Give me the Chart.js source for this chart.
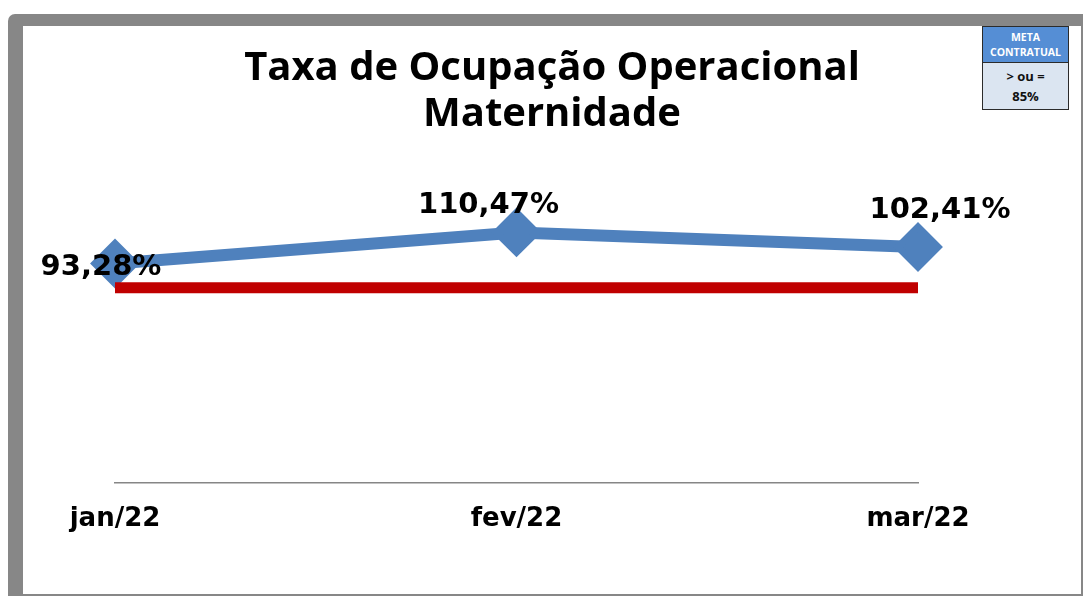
<!DOCTYPE html>
<html>
<head>
<meta charset="utf-8">
<script src="https://cdn.jsdelivr.net/npm/chart.js"></script>
<style>
  html, body { margin: 0; padding: 0; background: #fff; width: 1083px; height: 596px; overflow: hidden; }
  #frame { position: absolute; left: 8px; top: 14px; width: 1075px; height: 582px; background: #878787; border-radius: 7px 0 0 0; }
  #inner { position: absolute; left: 23px; top: 26px; width: 1058px; height: 568px; background: #fff; }
  #meta { position: absolute; left: 982px; top: 26px; width: 85px; height: 82px; border: 1px solid #2b2b2b;
          font-family: 'Open Sans', sans-serif; font-weight: bold; text-align: center; }
  #meta .hd { background: #558ed5; color: #fff; height: 36px; font-size: 10.5px; line-height: 15px; padding-top: 3px; box-sizing: border-box; border-bottom: 1px solid #2b2b2b; }
  #meta .bd { background: #dbe5f1; color: #111; height: 46px; font-size: 13px; line-height: 20px; padding-top: 3px; box-sizing: border-box; }
</style>
</head>
<body>
<div id="frame"></div>
<div id="inner"><canvas id="c"></canvas></div>
<div id="meta">
  <div class="hd">META<br>CONTRATUAL</div>
  <div class="bd">&gt; ou =<br>85%</div>
</div>
<script>
// months on the x axis
const months = ['jan/22', 'fev/22', 'mar/22'];
// occupancy rate, %
const taxaOcupacao = [93.28, 110.47, 102.41];
// contract target, %
const metaContratual = [85, 85, 85];

const titleLines = ['Taxa de Ocupação Operacional', 'Maternidade'];

// where each value label sits relative to its point (px)
const labelOffsets = [[-14, 4], [-28, -27], [22, -37]];

const fmt = v => v.toFixed(2).replace('.', ',') + '%';

const valueLabels = {
    id: 'valueLabels',
    afterDatasetsDraw(chart) {
        const ctx = chart.ctx;
        const meta = chart.getDatasetMeta(0);
        ctx.save();
        ctx.font = 'bold 29px "DejaVu Sans"';
        ctx.fillStyle = '#000';
        ctx.textAlign = 'center';
        ctx.textBaseline = 'middle';
        meta.data.forEach((pt, i) => {
            const o = labelOffsets[i];
            ctx.fillText(fmt(taxaOcupacao[i]), pt.x + o[0], pt.y + o[1]);
        });
        ctx.restore();
    }
};

new Chart(document.getElementById('c'), {
    type: 'line',
    data: {
        labels: months,
        datasets: [
            {
                label: 'Taxa',
                data: taxaOcupacao,
                borderColor: '#4f81bd',
                backgroundColor: '#4f81bd',
                borderWidth: 12,
                tension: 0,
                pointStyle: 'rectRot',
                pointRadius: 20,
                pointBorderWidth: 7,
                pointBackgroundColor: '#4f81bd',
                pointBorderColor: '#4f81bd',
                yAxisID: 'y',
                order: 1
            },
            {
                label: 'Meta',
                data: metaContratual,
                borderColor: '#c00000',
                borderWidth: 11,
                borderCapStyle: 'butt',
                pointRadius: 0,
                tension: 0,
                yAxisID: 'y2',
                order: 0
            }
        ]
    },
    options: {
        responsive: true,
        maintainAspectRatio: false,
        animation: false,
        layout: { padding: 0 },
        plugins: {
            legend: { display: false },
            tooltip: { enabled: false },
            title: {
                display: true,
                text: titleLines,
                color: '#000',
                font: { family: 'Open Sans', weight: 'bold', size: 40, lineHeight: 1.15 },
                padding: { top: 20, bottom: 12 }
            }
        },
        scales: {
            x: {
                offset: false,
                grid: { display: false, drawTicks: false },
                border: { display: true, color: '#868686', width: 1.5 },
                ticks: { color: '#000', font: { family: 'DejaVu Sans', weight: 'bold', size: 26 }, padding: 21, maxRotation: 0 },
                afterFit: s => { s.height = 111; }
            },
            y: {
                min: -28, max: 156,
                grid: { display: false },
                border: { display: false },
                ticks: { display: false },
                afterFit: s => { s.width = 92; }
            },
            y2: {
                position: 'right',
                min: 0, max: 145,
                grid: { display: false },
                border: { display: false },
                ticks: { display: false },
                afterFit: s => { s.width = 163; }
            }
        }
    },
    plugins: [valueLabels]
});
</script>
</body>
</html>
